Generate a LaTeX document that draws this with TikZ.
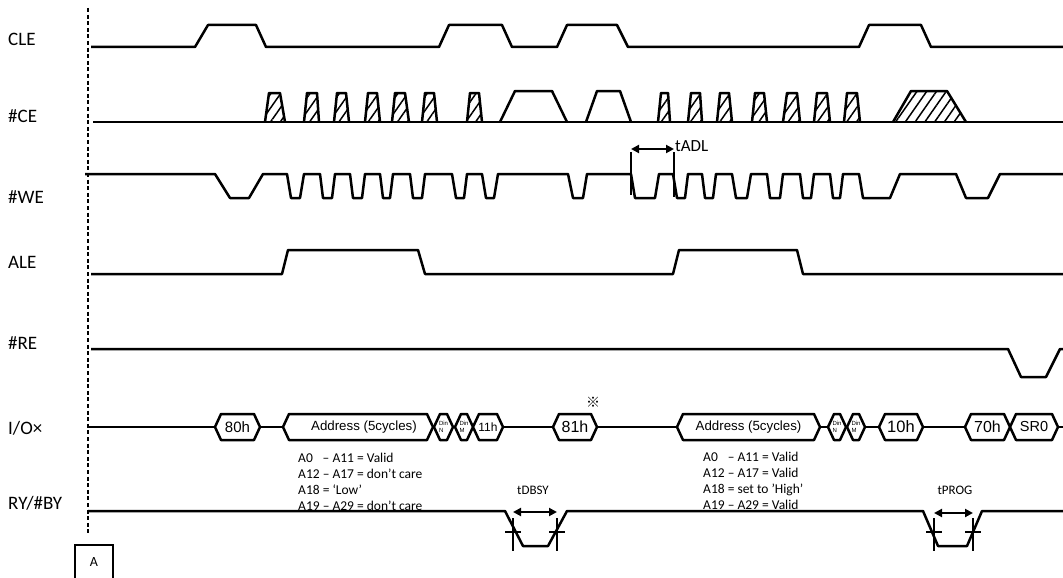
\documentclass[tikz,border=0pt]{standalone}
\usepackage{fontspec}
\setmainfont{Carlito}
\newfontfamily\arialfont{Liberation Sans}
\newfontfamily\cjkfont{Noto Sans CJK JP}
\usetikzlibrary{arrows.meta,patterns.meta}
\tikzset{
    wave/.style={
        draw=black,
        line width=2.5pt,
        line join=round,
    },
    dontcare/.style={
        wave,
        pattern={Lines[angle=55,distance=8pt,line width=1.5pt]},
    },
    busval/.style={
        wave,
        fill=white,
    },
    busfont/.style={
        font=\arialfont\fontsize{16}{18}\selectfont,
        inner sep=0pt,
    },
    siglabel/.style={
        anchor=base west,
        inner sep=0pt,
        font=\fontsize{19}{22}\selectfont,
    },
    note/.style={
        anchor=base west,
        inner sep=0pt,
        font=\fontsize{13.5}{16}\selectfont,
    },
    timelabel/.style={
        anchor=base,
        inner sep=0pt,
        font=\fontsize{13}{15}\selectfont,
    },
    marker/.style={
        draw=black,
        line width=2.2pt,
    },
    span/.style={
        {Triangle[length=8pt,width=8pt]}-{Triangle[length=8pt,width=8pt]},
        line width=2.2pt,
    },
    refline/.style={
        draw=black,
        line width=2.8pt,
        dash pattern=on 4pt off 2.6pt,
    },
}
% bus word: name, left tip, right tip, text
\newcommand{\busword}[4]{%
    \draw[busval] (#2,427) -- (#2+6,414) -- (#3-6,414) -- (#3,427)
        -- (#3-6,440) -- (#2+6,440) -- cycle;
    \node[busfont] (#1) at ({(#2+#3)/2},427) {#4};
}

\begin{document}
\begin{tikzpicture}[x=1pt,y=-1pt]
    \useasboundingbox (0,0) rectangle (1063,578);

    % Signal names
    \node[siglabel] (lblCLE) at (8,46) {CLE};
    \node[siglabel] (lblCE) at (8,122) {\#CE};
    \node[siglabel] (lblWE) at (8,203) {\#WE};
    \node[siglabel] (lblALE) at (8,268) {ALE};
    \node[siglabel] (lblRE) at (8,349) {\#RE};
    \node[siglabel] (lblIO) at (8,434) {I/O×};
    \node[siglabel] (lblRB) at (8,509) {RY/\#BY};

    % Reference line and marker A
    \draw[refline] (88,8) -- (88,535);
    \draw[marker] (75,545) rectangle (113,585);
    \node[inner sep=0pt, font=\fontsize{14}{16}\selectfont] (markA) at (94,562) {A};

    % CLE
    \draw[wave] (91,47) -- (195,47) -- (208,25) -- (256,25) -- (266,47)
        -- (439,47) -- (449,25) -- (502,25) -- (512,47)
        -- (557,47) -- (567,25) -- (617,25) -- (628,47)
        -- (859,47) -- (869,25) -- (921,25) -- (931,47) -- (1063,47);

    % #CE
    \draw[wave] (93,122) -- (1063,122);
    \draw[dontcare] (265,122) -- (269,93) -- (280,93) -- (285,122);
    \draw[dontcare] (304,122) -- (307,93) -- (317,93) -- (319,122);
    \draw[dontcare] (334,122) -- (337,93) -- (346,93) -- (349,122);
    \draw[dontcare] (365,122) -- (368,93) -- (377,93) -- (380,122);
    \draw[dontcare] (392,122) -- (395,93) -- (405,93) -- (409,122);
    \draw[dontcare] (422,122) -- (425,93) -- (434,93) -- (437,122);
    \draw[dontcare] (467,122) -- (470,93) -- (479,93) -- (482,122);
    \draw[wave] (500,122) -- (515,91) -- (552,91) -- (567,122);
    \draw[wave] (586,122) -- (597,91) -- (620,91) -- (631,122);
    \draw[dontcare] (658,122) -- (661,93) -- (668,93) -- (670,122);
    \draw[dontcare] (688,122) -- (691,93) -- (700,93) -- (702,122);
    \draw[dontcare] (717,122) -- (720,93) -- (729,93) -- (732,122);
    \draw[dontcare] (752,122) -- (755,93) -- (764,93) -- (767,122);
    \draw[dontcare] (783,122) -- (787,93) -- (797,93) -- (800,122);
    \draw[dontcare] (814,122) -- (817,93) -- (827,93) -- (830,122);
    \draw[dontcare] (844,122) -- (847,93) -- (857,93) -- (860,122);
    \draw[dontcare] (893,122) -- (911,91) -- (947,91) -- (966,122);

    % #WE
    \draw[wave] (85,174) -- (215,174) -- (230,198) -- (249,198) -- (263,174)
        -- (287,174) -- (291,198) -- (300,198) -- (304,174)
        -- (320,174) -- (323,198) -- (332,198) -- (335,174)
        -- (350,174) -- (353,198) -- (362,198) -- (365,174)
        -- (380,174) -- (383,198) -- (390,198) -- (393,174)
        -- (410,174) -- (413,198) -- (422,198) -- (425,174)
        -- (452,174) -- (456,198) -- (464,198) -- (467,174)
        -- (482,174) -- (486,198) -- (494,198) -- (498,174)
        -- (568,174) -- (573,198) -- (583,198) -- (587,174)
        -- (631,174) -- (635,198) -- (655,198) -- (659,174)
        -- (673,174) -- (677,198) -- (685,198) -- (688,174)
        -- (702,174) -- (705,198) -- (713,198) -- (716,174)
        -- (732,174) -- (736,198) -- (747,198) -- (751,174)
        -- (767,174) -- (770,198) -- (780,198) -- (783,174)
        -- (800,174) -- (803,198) -- (811,198) -- (814,174)
        -- (830,174) -- (833,198) -- (840,198) -- (843,174)
        -- (859,174) -- (863,198) -- (890,198) -- (900,174)
        -- (956,174) -- (966,198) -- (988,198) -- (1000,174) -- (1063,174);

    % tADL
    \draw[marker] (631,152) -- (631,195);
    \draw[marker] (674,152) -- (674,197);
    \coordinate (adlL) at (631,149);
    \coordinate (adlR) at (674,149);
    \draw[span] (adlL) -- (adlR);
    \node[anchor=base west, inner sep=0pt, font=\fontsize{17}{19}\selectfont] (tadl) at (675,151) {tADL};

    % ALE
    \draw[wave] (91,274) -- (282,274) -- (288,250) -- (418,250) -- (425,274)
        -- (673,274) -- (679,250) -- (797,250) -- (803,274) -- (1063,274);

    % #RE
    \draw[wave] (91,349) -- (1008,349) -- (1021,377) -- (1046,377) -- (1060,349) -- (1063,349);

    % I/O
    \draw[wave] (88,427) -- (1063,427);
    \busword{cmd80}{215}{260}{\fontsize{15}{17}\selectfont 80h}
    \busword{addr1}{283}{433}{\hspace{12pt}\fontsize{13.3}{15}\selectfont Address (5cycles)}
    \busword{dinN1}{434}{453}{\fontsize{6}{6.5}\selectfont\shortstack[l]{Din\\N}}
    \busword{dinM1}{455}{473}{\fontsize{6}{6.5}\selectfont\shortstack[l]{Din\\M}}
    \busword{cmd11}{473}{503}{\fontsize{12}{14}\selectfont 11h}
    \busword{cmd81}{553}{597}{81h}
    \busword{addr2}{677}{820}{\fontsize{13.3}{15}\selectfont Address (5cycles)}
    \busword{dinN2}{828}{846}{\fontsize{6}{6.5}\selectfont\shortstack[l]{Din\\N}}
    \busword{dinM2}{847}{865}{\fontsize{6}{6.5}\selectfont\shortstack[l]{Din\\M}}
    \busword{cmd10}{879}{923}{\fontsize{16.5}{18}\selectfont 10h}
    \busword{cmd70}{965}{1010}{70h}
    \busword{stat}{1010}{1058}{\fontsize{14.5}{16}\selectfont SR0}
    \node[inner sep=0pt, font=\cjkfont\fontsize{14}{14}\selectfont] (mark81) at (593,402) {※};

    % Address notes
    \node[note] (noteA1) at (298,462) {A0\hphantom{2} – A11 = Valid};
    \node[note] (noteB1) at (298,478) {A12 – A17 = don’t care};
    \node[note] (noteC1) at (298,494) {A18 = ‘Low’};
    \node[note] (noteD1) at (298,510) {A19 – A29 = don’t care};
    \node[note] (noteA2) at (703,461) {A0\hphantom{2} – A11 = Valid};
    \node[note] (noteB2) at (703,477) {A12 – A17 = Valid};
    \node[note] (noteC2) at (703,493) {A18 = set to ’High’};
    \node[note] (noteD2) at (703,509) {A19 – A29 = Valid};

    % RY/#BY
    \draw[wave] (88,511) -- (505,511) -- (523,546) -- (548,546) -- (567,511)
        -- (923,511) -- (938,546) -- (967,546) -- (982,511) -- (1063,511);

    % tDBSY
    \draw[marker] (513,518) -- (513,551);
    \draw[marker] (505,532) -- (521,532);
    \draw[marker] (557,518) -- (557,551);
    \draw[marker] (549,532) -- (565,532);
    \coordinate (dbsyL) at (513,512);
    \coordinate (dbsyR) at (557,512);
    \draw[span] (dbsyL) -- (dbsyR);
    \node[timelabel] (tdbsy) at (533,494) {tDBSY};

    % tPROG
    \draw[marker] (934,518) -- (934,551);
    \draw[marker] (926,532) -- (942,532);
    \draw[marker] (973,518) -- (973,551);
    \draw[marker] (965,532) -- (981,532);
    \coordinate (progL) at (934,513);
    \coordinate (progR) at (973,513);
    \draw[span] (progL) -- (progR);
    \node[timelabel] (tprog) at (955,494) {tPROG};

\end{tikzpicture}
\end{document}
